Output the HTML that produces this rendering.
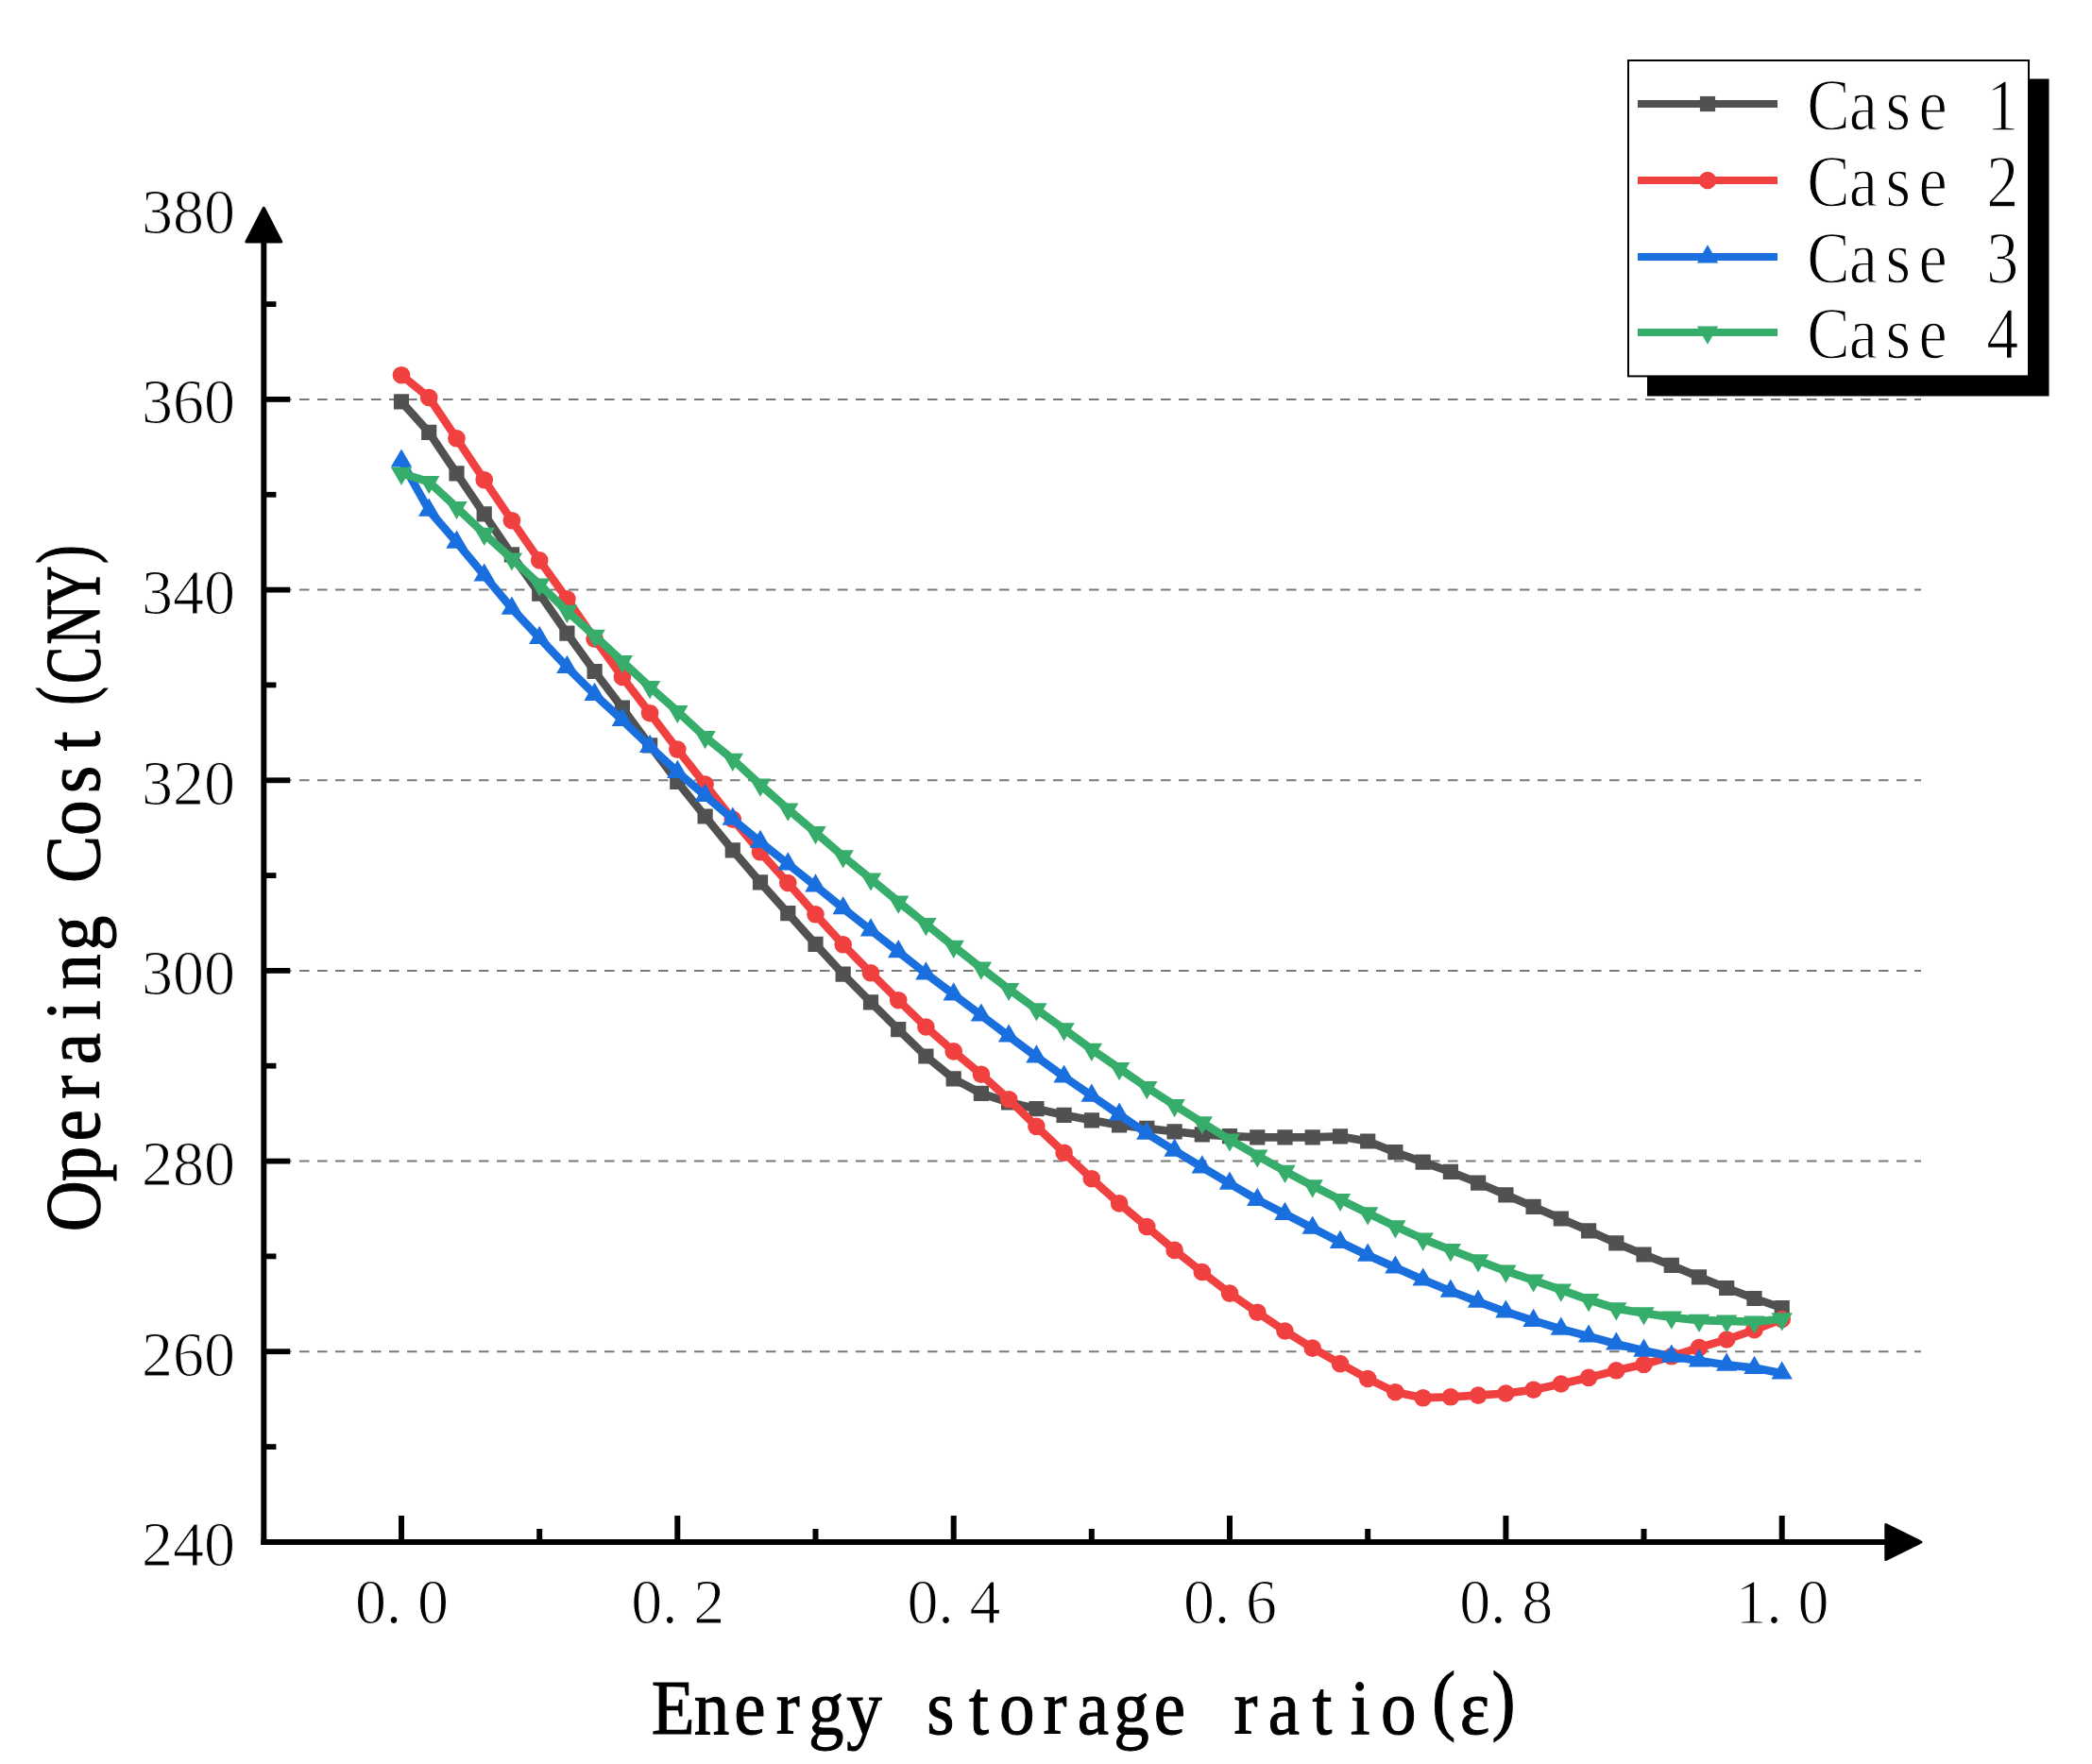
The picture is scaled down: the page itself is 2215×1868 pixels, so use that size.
<!DOCTYPE html>
<html lang="en"><head><meta charset="utf-8"><title>Operating cost vs energy storage ratio</title>
<style>
html,body{margin:0;padding:0;background:#fff}
body{width:2215px;height:1868px;overflow:hidden}
svg{display:block}
text{font-family:"Liberation Serif","Noto Serif CJK SC",serif;text-anchor:middle;fill:#000}
</style></head><body>
<svg width="2215" height="1868" viewBox="0 0 2215 1868">
<rect width="2215" height="1868" fill="#fff"/>
<g stroke="#787878" stroke-width="2" stroke-dasharray="10.5 8.5" fill="none">
<path d="M279 1431.2H2034"/><path d="M279 1229.6H2034"/><path d="M279 1027.9H2034"/><path d="M279 826.3H2034"/><path d="M279 624.6H2034"/><path d="M279 422.9H2034"/>
</g>
<g fill="#000" stroke="none">
<rect x="276.3" y="250" width="6" height="1386"/><rect x="276.3" y="1630" width="1723.7" height="6"/><rect x="282" y="1428.3" width="25.2" height="5.8"/><rect x="282" y="1226.7" width="25.2" height="5.8"/><rect x="282" y="1025" width="25.2" height="5.8"/><rect x="282" y="823.4" width="25.2" height="5.8"/><rect x="282" y="621.7" width="25.2" height="5.8"/><rect x="282" y="420" width="25.2" height="5.8"/><rect x="282" y="1529.2" width="10.4" height="5.8"/><rect x="282" y="1327.5" width="10.4" height="5.8"/><rect x="282" y="1125.8" width="10.4" height="5.8"/><rect x="282" y="924.2" width="10.4" height="5.8"/><rect x="282" y="722.5" width="10.4" height="5.8"/><rect x="282" y="520.9" width="10.4" height="5.8"/><rect x="282" y="319.2" width="10.4" height="5.8"/><rect x="422" y="1605" width="6" height="26"/><rect x="714.3" y="1605" width="6" height="26"/><rect x="1006.7" y="1605" width="6" height="26"/><rect x="1299" y="1605" width="6" height="26"/><rect x="1591.4" y="1605" width="6" height="26"/><rect x="1883.7" y="1605" width="6" height="26"/><rect x="568.2" y="1619" width="6" height="12"/><rect x="860.5" y="1619" width="6" height="12"/><rect x="1152.8" y="1619" width="6" height="12"/><rect x="1445.2" y="1619" width="6" height="12"/><rect x="1737.5" y="1619" width="6" height="12"/>
</g>
<g fill="#000" stroke="#000" stroke-width="3" stroke-linejoin="round">
<path d="M279.3 220.3L297.7 256H260.9z"/><path d="M2033.9 1633L1996.8 1614.5V1651.5z"/>
</g>
<g fill="#515151" stroke="none"><polyline points="425,425.3 454.2,457.8 483.5,501.3 512.7,544.3 541.9,587.4 571.2,628.7 600.4,670.7 629.6,711 658.9,749.7 688.1,789.3 717.3,828 746.6,864.5 775.8,900.3 805,934.4 834.3,967.1 863.5,999.8 892.7,1031.7 922,1061.3 951.2,1090.2 980.4,1118.5 1009.7,1142.4 1038.9,1157.9 1068.1,1167.3 1097.4,1174.2 1126.6,1180.8 1155.8,1186.3 1185.1,1191.4 1214.3,1194.9 1243.6,1198.3 1272.8,1201.4 1302,1203.1 1331.3,1204.4 1360.5,1204.4 1389.7,1204.4 1419,1203.4 1448.2,1208.5 1477.4,1220.2 1506.7,1230.6 1535.9,1240.9 1565.1,1252.6 1594.4,1265.3 1623.6,1277.9 1652.8,1290.5 1682.1,1303.3 1711.3,1316.4 1740.5,1328.5 1769.8,1339.9 1799,1352.3 1828.2,1364 1857.5,1375 1886.7,1385" fill="none" stroke="#515151" stroke-width="8.6" stroke-linejoin="round" stroke-linecap="butt"/><path d="M416.9 417.2h16.2v16.2h-16.2zM446.1 449.7h16.2v16.2h-16.2zM475.4 493.2h16.2v16.2h-16.2zM504.6 536.2h16.2v16.2h-16.2zM533.8 579.3h16.2v16.2h-16.2zM563.1 620.6h16.2v16.2h-16.2zM592.3 662.6h16.2v16.2h-16.2zM621.5 702.9h16.2v16.2h-16.2zM650.8 741.6h16.2v16.2h-16.2zM680 781.2h16.2v16.2h-16.2zM709.2 819.9h16.2v16.2h-16.2zM738.5 856.4h16.2v16.2h-16.2zM767.7 892.2h16.2v16.2h-16.2zM796.9 926.3h16.2v16.2h-16.2zM826.2 959h16.2v16.2h-16.2zM855.4 991.7h16.2v16.2h-16.2zM884.6 1023.6h16.2v16.2h-16.2zM913.9 1053.2h16.2v16.2h-16.2zM943.1 1082.1h16.2v16.2h-16.2zM972.3 1110.4h16.2v16.2h-16.2zM1001.6 1134.3h16.2v16.2h-16.2zM1030.8 1149.8h16.2v16.2h-16.2zM1060 1159.2h16.2v16.2h-16.2zM1089.3 1166.1h16.2v16.2h-16.2zM1118.5 1172.7h16.2v16.2h-16.2zM1147.8 1178.2h16.2v16.2h-16.2zM1177 1183.3h16.2v16.2h-16.2zM1206.2 1186.8h16.2v16.2h-16.2zM1235.5 1190.2h16.2v16.2h-16.2zM1264.7 1193.3h16.2v16.2h-16.2zM1293.9 1195h16.2v16.2h-16.2zM1323.2 1196.3h16.2v16.2h-16.2zM1352.4 1196.3h16.2v16.2h-16.2zM1381.6 1196.3h16.2v16.2h-16.2zM1410.9 1195.3h16.2v16.2h-16.2zM1440.1 1200.4h16.2v16.2h-16.2zM1469.3 1212.1h16.2v16.2h-16.2zM1498.6 1222.5h16.2v16.2h-16.2zM1527.8 1232.8h16.2v16.2h-16.2zM1557 1244.5h16.2v16.2h-16.2zM1586.3 1257.2h16.2v16.2h-16.2zM1615.5 1269.8h16.2v16.2h-16.2zM1644.7 1282.4h16.2v16.2h-16.2zM1674 1295.2h16.2v16.2h-16.2zM1703.2 1308.3h16.2v16.2h-16.2zM1732.4 1320.4h16.2v16.2h-16.2zM1761.7 1331.8h16.2v16.2h-16.2zM1790.9 1344.2h16.2v16.2h-16.2zM1820.1 1355.9h16.2v16.2h-16.2zM1849.4 1366.9h16.2v16.2h-16.2zM1878.6 1376.9h16.2v16.2h-16.2z"/></g>
<g fill="#f14040" stroke="none"><polyline points="425,397.2 454.2,421 483.5,464.3 512.7,508.2 541.9,551.2 571.2,593.4 600.4,634.3 629.6,676.6 658.9,717 688.1,755.2 717.3,793.6 746.6,830.6 775.8,867.6 805,902.3 834.3,935 863.5,968.3 892.7,1000.3 922,1030.3 951.2,1059.2 980.4,1087.5 1009.7,1113.4 1038.9,1137.7 1068.1,1164.2 1097.4,1192.8 1126.6,1220.7 1155.8,1248.2 1185.1,1274.4 1214.3,1299 1243.6,1323.9 1272.8,1347 1302,1369.6 1331.3,1389.7 1360.5,1409.5 1389.7,1427.6 1419,1444.1 1448.2,1460 1477.4,1474.2 1506.7,1480.3 1535.9,1479.3 1565.1,1477.6 1594.4,1475.5 1623.6,1471.7 1652.8,1465.5 1682.1,1458.8 1711.3,1451.3 1740.5,1444.8 1769.8,1436.3 1799,1427.1 1828.2,1418.5 1857.5,1408.2 1886.7,1397" fill="none" stroke="#f14040" stroke-width="8.6" stroke-linejoin="round" stroke-linecap="butt"/><circle cx="425" cy="397.2" r="9.3"/><circle cx="454.2" cy="421" r="9.3"/><circle cx="483.5" cy="464.3" r="9.3"/><circle cx="512.7" cy="508.2" r="9.3"/><circle cx="541.9" cy="551.2" r="9.3"/><circle cx="571.2" cy="593.4" r="9.3"/><circle cx="600.4" cy="634.3" r="9.3"/><circle cx="629.6" cy="676.6" r="9.3"/><circle cx="658.9" cy="717" r="9.3"/><circle cx="688.1" cy="755.2" r="9.3"/><circle cx="717.3" cy="793.6" r="9.3"/><circle cx="746.6" cy="830.6" r="9.3"/><circle cx="775.8" cy="867.6" r="9.3"/><circle cx="805" cy="902.3" r="9.3"/><circle cx="834.3" cy="935" r="9.3"/><circle cx="863.5" cy="968.3" r="9.3"/><circle cx="892.7" cy="1000.3" r="9.3"/><circle cx="922" cy="1030.3" r="9.3"/><circle cx="951.2" cy="1059.2" r="9.3"/><circle cx="980.4" cy="1087.5" r="9.3"/><circle cx="1009.7" cy="1113.4" r="9.3"/><circle cx="1038.9" cy="1137.7" r="9.3"/><circle cx="1068.1" cy="1164.2" r="9.3"/><circle cx="1097.4" cy="1192.8" r="9.3"/><circle cx="1126.6" cy="1220.7" r="9.3"/><circle cx="1155.8" cy="1248.2" r="9.3"/><circle cx="1185.1" cy="1274.4" r="9.3"/><circle cx="1214.3" cy="1299" r="9.3"/><circle cx="1243.6" cy="1323.9" r="9.3"/><circle cx="1272.8" cy="1347" r="9.3"/><circle cx="1302" cy="1369.6" r="9.3"/><circle cx="1331.3" cy="1389.7" r="9.3"/><circle cx="1360.5" cy="1409.5" r="9.3"/><circle cx="1389.7" cy="1427.6" r="9.3"/><circle cx="1419" cy="1444.1" r="9.3"/><circle cx="1448.2" cy="1460" r="9.3"/><circle cx="1477.4" cy="1474.2" r="9.3"/><circle cx="1506.7" cy="1480.3" r="9.3"/><circle cx="1535.9" cy="1479.3" r="9.3"/><circle cx="1565.1" cy="1477.6" r="9.3"/><circle cx="1594.4" cy="1475.5" r="9.3"/><circle cx="1623.6" cy="1471.7" r="9.3"/><circle cx="1652.8" cy="1465.5" r="9.3"/><circle cx="1682.1" cy="1458.8" r="9.3"/><circle cx="1711.3" cy="1451.3" r="9.3"/><circle cx="1740.5" cy="1444.8" r="9.3"/><circle cx="1769.8" cy="1436.3" r="9.3"/><circle cx="1799" cy="1427.1" r="9.3"/><circle cx="1828.2" cy="1418.5" r="9.3"/><circle cx="1857.5" cy="1408.2" r="9.3"/><circle cx="1886.7" cy="1397" r="9.3"/></g>
<g fill="#1a6fdf" stroke="none"><polyline points="425,488.2 454.2,540.4 483.5,574.3 512.7,609.2 541.9,644.3 571.2,675.5 600.4,706.5 629.6,735.5 658.9,762.5 688.1,790.5 717.3,817.5 746.6,842.5 775.8,867.4 805,891.6 834.3,915 863.5,938.1 892.7,961.8 922,985 951.2,1007.9 980.4,1031 1009.7,1053 1038.9,1075.2 1068.1,1097.2 1097.4,1119 1126.6,1140.2 1155.8,1160.3 1185.1,1180.4 1214.3,1200.4 1243.6,1218.3 1272.8,1236 1302,1253.4 1331.3,1270.5 1360.5,1285.5 1389.7,1300.4 1419,1315.5 1448.2,1329.3 1477.4,1342.2 1506.7,1355.2 1535.9,1367.3 1565.1,1378.4 1594.4,1389.2 1623.6,1398.5 1652.8,1407.3 1682.1,1415.2 1711.3,1423.2 1740.5,1430.3 1769.8,1436.4 1799,1441.1 1828.2,1445.4 1857.5,1448.5 1886.7,1454.2" fill="none" stroke="#1a6fdf" stroke-width="8.6" stroke-linejoin="round" stroke-linecap="butt"/><path d="M425 475.4L436.2 494.6L413.8 494.6zM454.2 527.6L465.4 546.8L443 546.8zM483.5 561.5L494.7 580.7L472.3 580.7zM512.7 596.4L523.9 615.6L501.5 615.6zM541.9 631.5L553.1 650.7L530.7 650.7zM571.2 662.7L582.4 681.9L560 681.9zM600.4 693.7L611.6 712.9L589.2 712.9zM629.6 722.7L640.8 741.9L618.4 741.9zM658.9 749.7L670.1 768.9L647.7 768.9zM688.1 777.7L699.3 796.9L676.9 796.9zM717.3 804.7L728.5 823.9L706.1 823.9zM746.6 829.7L757.8 848.9L735.4 848.9zM775.8 854.6L787 873.8L764.6 873.8zM805 878.8L816.2 898L793.8 898zM834.3 902.2L845.5 921.4L823.1 921.4zM863.5 925.3L874.7 944.5L852.3 944.5zM892.7 949L903.9 968.2L881.5 968.2zM922 972.2L933.2 991.4L910.8 991.4zM951.2 995.1L962.4 1014.3L940 1014.3zM980.4 1018.2L991.6 1037.4L969.2 1037.4zM1009.7 1040.2L1020.9 1059.4L998.5 1059.4zM1038.9 1062.4L1050.1 1081.6L1027.7 1081.6zM1068.1 1084.4L1079.3 1103.6L1056.9 1103.6zM1097.4 1106.2L1108.6 1125.4L1086.2 1125.4zM1126.6 1127.4L1137.8 1146.6L1115.4 1146.6zM1155.8 1147.5L1167 1166.7L1144.6 1166.7zM1185.1 1167.6L1196.3 1186.8L1173.9 1186.8zM1214.3 1187.6L1225.5 1206.8L1203.1 1206.8zM1243.6 1205.5L1254.8 1224.7L1232.4 1224.7zM1272.8 1223.2L1284 1242.4L1261.6 1242.4zM1302 1240.6L1313.2 1259.8L1290.8 1259.8zM1331.3 1257.7L1342.5 1276.9L1320.1 1276.9zM1360.5 1272.7L1371.7 1291.9L1349.3 1291.9zM1389.7 1287.6L1400.9 1306.8L1378.5 1306.8zM1419 1302.7L1430.2 1321.9L1407.8 1321.9zM1448.2 1316.5L1459.4 1335.7L1437 1335.7zM1477.4 1329.4L1488.6 1348.6L1466.2 1348.6zM1506.7 1342.4L1517.9 1361.6L1495.5 1361.6zM1535.9 1354.5L1547.1 1373.7L1524.7 1373.7zM1565.1 1365.6L1576.3 1384.8L1553.9 1384.8zM1594.4 1376.4L1605.6 1395.6L1583.2 1395.6zM1623.6 1385.7L1634.8 1404.9L1612.4 1404.9zM1652.8 1394.5L1664 1413.7L1641.6 1413.7zM1682.1 1402.4L1693.3 1421.6L1670.9 1421.6zM1711.3 1410.4L1722.5 1429.6L1700.1 1429.6zM1740.5 1417.5L1751.7 1436.7L1729.3 1436.7zM1769.8 1423.6L1781 1442.8L1758.6 1442.8zM1799 1428.3L1810.2 1447.5L1787.8 1447.5zM1828.2 1432.6L1839.4 1451.8L1817 1451.8zM1857.5 1435.7L1868.7 1454.9L1846.3 1454.9zM1886.7 1441.4L1897.9 1460.6L1875.5 1460.6z"/></g>
<g fill="#37ad6b" stroke="none"><polyline points="425,501.1 454.2,510.4 483.5,537.3 512.7,565.2 541.9,591.8 571.2,618.9 600.4,647.2 629.6,673.2 658.9,700.5 688.1,727.5 717.3,753.3 746.6,780.4 775.8,804.1 805,831 834.3,856.9 863.5,881.5 892.7,906.7 922,930.8 951.2,954.9 980.4,978.5 1009.7,1002.1 1038.9,1025 1068.1,1047.3 1097.4,1068.7 1126.6,1089.7 1155.8,1111.2 1185.1,1131.4 1214.3,1151.5 1243.6,1170.4 1272.8,1188.7 1302,1206.8 1331.3,1223.8 1360.5,1240.2 1389.7,1255.7 1419,1270.3 1448.2,1284.6 1477.4,1298.7 1506.7,1311.9 1535.9,1323.5 1565.1,1334.7 1594.4,1345.9 1623.6,1355.8 1652.8,1365.9 1682.1,1376.4 1711.3,1385.7 1740.5,1390.6 1769.8,1395 1799,1398.1 1828.2,1398.9 1857.5,1399.8 1886.7,1396.7" fill="none" stroke="#37ad6b" stroke-width="8.6" stroke-linejoin="round" stroke-linecap="butt"/><path d="M425 513.9L436.2 494.7L413.8 494.7zM454.2 523.2L465.4 504L443 504zM483.5 550.1L494.7 530.9L472.3 530.9zM512.7 578L523.9 558.8L501.5 558.8zM541.9 604.6L553.1 585.4L530.7 585.4zM571.2 631.7L582.4 612.5L560 612.5zM600.4 660L611.6 640.8L589.2 640.8zM629.6 686L640.8 666.8L618.4 666.8zM658.9 713.3L670.1 694.1L647.7 694.1zM688.1 740.3L699.3 721.1L676.9 721.1zM717.3 766.1L728.5 746.9L706.1 746.9zM746.6 793.2L757.8 774L735.4 774zM775.8 816.9L787 797.7L764.6 797.7zM805 843.8L816.2 824.6L793.8 824.6zM834.3 869.7L845.5 850.5L823.1 850.5zM863.5 894.3L874.7 875.1L852.3 875.1zM892.7 919.5L903.9 900.3L881.5 900.3zM922 943.6L933.2 924.4L910.8 924.4zM951.2 967.7L962.4 948.5L940 948.5zM980.4 991.3L991.6 972.1L969.2 972.1zM1009.7 1014.9L1020.9 995.7L998.5 995.7zM1038.9 1037.8L1050.1 1018.6L1027.7 1018.6zM1068.1 1060.1L1079.3 1040.9L1056.9 1040.9zM1097.4 1081.5L1108.6 1062.3L1086.2 1062.3zM1126.6 1102.5L1137.8 1083.3L1115.4 1083.3zM1155.8 1124L1167 1104.8L1144.6 1104.8zM1185.1 1144.2L1196.3 1125L1173.9 1125zM1214.3 1164.3L1225.5 1145.1L1203.1 1145.1zM1243.6 1183.2L1254.8 1164L1232.4 1164zM1272.8 1201.5L1284 1182.3L1261.6 1182.3zM1302 1219.6L1313.2 1200.4L1290.8 1200.4zM1331.3 1236.6L1342.5 1217.4L1320.1 1217.4zM1360.5 1253L1371.7 1233.8L1349.3 1233.8zM1389.7 1268.5L1400.9 1249.3L1378.5 1249.3zM1419 1283.1L1430.2 1263.9L1407.8 1263.9zM1448.2 1297.4L1459.4 1278.2L1437 1278.2zM1477.4 1311.5L1488.6 1292.3L1466.2 1292.3zM1506.7 1324.7L1517.9 1305.5L1495.5 1305.5zM1535.9 1336.3L1547.1 1317.1L1524.7 1317.1zM1565.1 1347.5L1576.3 1328.3L1553.9 1328.3zM1594.4 1358.7L1605.6 1339.5L1583.2 1339.5zM1623.6 1368.6L1634.8 1349.4L1612.4 1349.4zM1652.8 1378.7L1664 1359.5L1641.6 1359.5zM1682.1 1389.2L1693.3 1370L1670.9 1370zM1711.3 1398.5L1722.5 1379.3L1700.1 1379.3zM1740.5 1403.4L1751.7 1384.2L1729.3 1384.2zM1769.8 1407.8L1781 1388.6L1758.6 1388.6zM1799 1410.9L1810.2 1391.7L1787.8 1391.7zM1828.2 1411.7L1839.4 1392.5L1817 1392.5zM1857.5 1412.6L1868.7 1393.4L1846.3 1393.4zM1886.7 1409.5L1897.9 1390.3L1875.5 1390.3z"/></g>
<rect x="1744" y="83.5" width="425.5" height="336" fill="#000"/>
<rect x="1724" y="64" width="424" height="334.4" fill="#fff" stroke="#000" stroke-width="2"/>
<g fill="#515151"><rect x="1734" y="106" width="148" height="8"/><path d="M1799.9 101.9h16.2v16.2h-16.2z"/></g>
<g fill="#f14040"><rect x="1734" y="187" width="148" height="8"/><circle cx="1808" cy="191" r="9.3"/></g>
<g fill="#1a6fdf"><rect x="1734" y="268" width="148" height="8"/><path d="M1808 259.2L1819.2 278.4L1796.8 278.4z"/></g>
<g fill="#37ad6b"><rect x="1734" y="348" width="148" height="8"/><path d="M1808 364.8L1819.2 345.6L1796.8 345.6z"/></g>
<text transform="translate(0,136.6) scale(1,1.14)" x="1936 1972.8 2009.7 2046.5 2083.4 2120.2" y="0" font-size="68" stroke="#fff" stroke-width="1.1">Case 1</text>
<text transform="translate(0,217.6) scale(1,1.14)" x="1936 1972.8 2009.7 2046.5 2083.4 2120.2" y="0" font-size="68" stroke="#fff" stroke-width="1.1">Case 2</text>
<text transform="translate(0,298.6) scale(1,1.14)" x="1936 1972.8 2009.7 2046.5 2083.4 2120.2" y="0" font-size="68" stroke="#fff" stroke-width="1.1">Case 3</text>
<text transform="translate(0,378.6) scale(1,1.14)" x="1936 1972.8 2009.7 2046.5 2083.4 2120.2" y="0" font-size="68" stroke="#fff" stroke-width="1.1">Case 4</text>
<text transform="translate(0,1658.2) scale(1,1.03)" x="166.4 199.4 232.4" y="0" font-size="66" stroke="#fff" stroke-width="1.1">240</text>
<text transform="translate(0,1456.5) scale(1,1.03)" x="166.4 199.4 232.4" y="0" font-size="66" stroke="#fff" stroke-width="1.1">260</text>
<text transform="translate(0,1254.9) scale(1,1.03)" x="166.4 199.4 232.4" y="0" font-size="66" stroke="#fff" stroke-width="1.1">280</text>
<text transform="translate(0,1053.2) scale(1,1.03)" x="166.4 199.4 232.4" y="0" font-size="66" stroke="#fff" stroke-width="1.1">300</text>
<text transform="translate(0,851.6) scale(1,1.03)" x="166.4 199.4 232.4" y="0" font-size="66" stroke="#fff" stroke-width="1.1">320</text>
<text transform="translate(0,649.9) scale(1,1.03)" x="166.4 199.4 232.4" y="0" font-size="66" stroke="#fff" stroke-width="1.1">340</text>
<text transform="translate(0,448.2) scale(1,1.03)" x="166.4 199.4 232.4" y="0" font-size="66" stroke="#fff" stroke-width="1.1">360</text>
<text transform="translate(0,246.6) scale(1,1.03)" x="166.4 199.4 232.4" y="0" font-size="66" stroke="#fff" stroke-width="1.1">380</text>
<text transform="translate(0,1718.8) scale(1,1.03)" x="392.4 416.9 458.4" y="0" font-size="66" stroke="#fff" stroke-width="1.1">0.0</text>
<text transform="translate(0,1718.8) scale(1,1.03)" x="684.7 709.2 750.7" y="0" font-size="66" stroke="#fff" stroke-width="1.1">0.2</text>
<text transform="translate(0,1718.8) scale(1,1.03)" x="977.1 1001.6 1043.1" y="0" font-size="66" stroke="#fff" stroke-width="1.1">0.4</text>
<text transform="translate(0,1718.8) scale(1,1.03)" x="1269.4 1293.9 1335.4" y="0" font-size="66" stroke="#fff" stroke-width="1.1">0.6</text>
<text transform="translate(0,1718.8) scale(1,1.03)" x="1561.8 1586.3 1627.8" y="0" font-size="66" stroke="#fff" stroke-width="1.1">0.8</text>
<text transform="translate(0,1718.8) scale(1,1.03)" x="1854.1 1878.6 1920.1" y="0" font-size="66" stroke="#fff" stroke-width="1.1">1.0</text>
<text transform="translate(0,1835.6) scale(1,1.1)" x="712.6 753.5 793.9 834.3 874.7 915.1 955.5 995.9 1036.3 1076.7 1117.1 1157.5 1197.9 1238.3 1278.7 1319.1 1359.5 1399.9 1440.3 1480.7 1528.7 1561.5 1592.1" y="0 0 0 0 0 0 0 0 0 0 0 0 0 0 0 0 0 0 0 0 -8.2 0 -8.2" font-size="75" stroke="#000" stroke-width="1">Energy storage ratio(ε)</text>
<text transform="translate(104.5,0) rotate(-90) scale(1,1.1)" x="-1277.2 -1232.5 -1191.8 -1151.2 -1110.5 -1069.8 -1029 -988.3 -947.6 -909.9 -866.2 -825.5 -784.8" y="0" font-size="75" stroke="#000" stroke-width="1">Operaing Cost</text>
<text transform="translate(104.5,0) rotate(-90) scale(1,1.42)" x="-736.8 -704.5 -661.5 -620.5 -587.2" y="-6.3 0 0 0 -6.3" font-size="58" stroke="#000" stroke-width="1">(CNY)</text>
</svg>
</body></html>
